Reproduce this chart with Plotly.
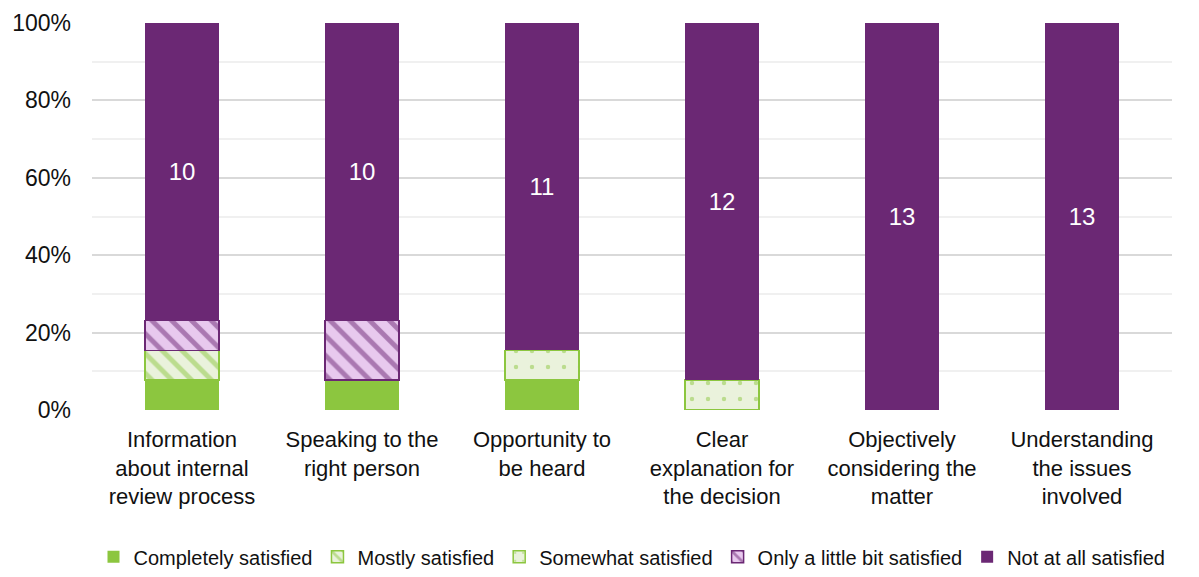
import plotly.graph_objects as go

categories = [
    "Information<br>about internal<br>review process",
    "Speaking to the<br>right person",
    "Opportunity to<br>be heard",
    "Clear<br>explanation for<br>the decision",
    "Objectively<br>considering the<br>matter",
    "Understanding<br>the issues<br>involved",
]
completely = [1, 1, 1, None, None, None]
mostly = [1, None, None, None, None, None]
somewhat = [None, None, 1, 1, None, None]
little = [1, 2, None, None, None, None]
not_at_all = [10, 10, 11, 12, 13, 13]

green = "#8CC63F"
light_green = "#EAF2DC"
purple = "#6B2874"
pink = "#E8C9EE"

fig = go.Figure()
fig.add_trace(go.Bar(
    x=categories, y=completely, name="Completely satisfied",
    marker=dict(color=green, line=dict(width=0)),
))
fig.add_trace(go.Bar(
    x=categories, y=mostly, name="Mostly satisfied",
    marker=dict(color=light_green, line=dict(color=green, width=1.5),
                pattern=dict(shape="\\", fgcolor=green, bgcolor=light_green,
                             size=14, solidity=0.35)),
))
fig.add_trace(go.Bar(
    x=categories, y=somewhat, name="Somewhat satisfied",
    marker=dict(color=light_green, line=dict(color=green, width=1.5),
                pattern=dict(shape=".", fgcolor=green, bgcolor=light_green,
                             size=16, solidity=0.06)),
))
fig.add_trace(go.Bar(
    x=categories, y=little, name="Only a little bit satisfied",
    marker=dict(color=pink, line=dict(color=purple, width=1.5),
                pattern=dict(shape="\\", fgcolor=purple, bgcolor=pink,
                             size=14, solidity=0.35)),
))
fig.add_trace(go.Bar(
    x=categories, y=not_at_all, name="Not at all satisfied",
    marker=dict(color=purple, line=dict(width=0)),
    text=[str(v) for v in not_at_all], textposition="inside",
    insidetextanchor="middle", textangle=0,
    textfont=dict(color="white", size=24),
))

fig.update_layout(
    width=1199, height=577,
    barmode="stack", barnorm="percent", bargap=0.59,
    plot_bgcolor="white", paper_bgcolor="white",
    font=dict(family="Liberation Sans, Arial, sans-serif", size=22, color="#111111"),
    margin=dict(l=84, r=35, t=15, b=175),
    legend=dict(orientation="h", x=0.5, xanchor="center", y=0.015, yanchor="bottom",
                yref="container", font=dict(size=20), itemwidth=30,
                traceorder="normal"),
)
fig.update_yaxes(range=[0, 100], dtick=20, ticksuffix="%", showgrid=True,
                 gridcolor="#D9D9D9", gridwidth=1.5, zeroline=False,
                 ticks="", ticklen=0, tickfont=dict(size=23), automargin=False,
                 ticklabelstandoff=20,
                 minor=dict(dtick=10, showgrid=True, gridcolor="#F0F0F0", gridwidth=1.5))
fig.update_xaxes(showline=False, ticks="", tickfont=dict(size=22), automargin=False,
                 ticklabelstandoff=14)

fig.write_html("out.html")
